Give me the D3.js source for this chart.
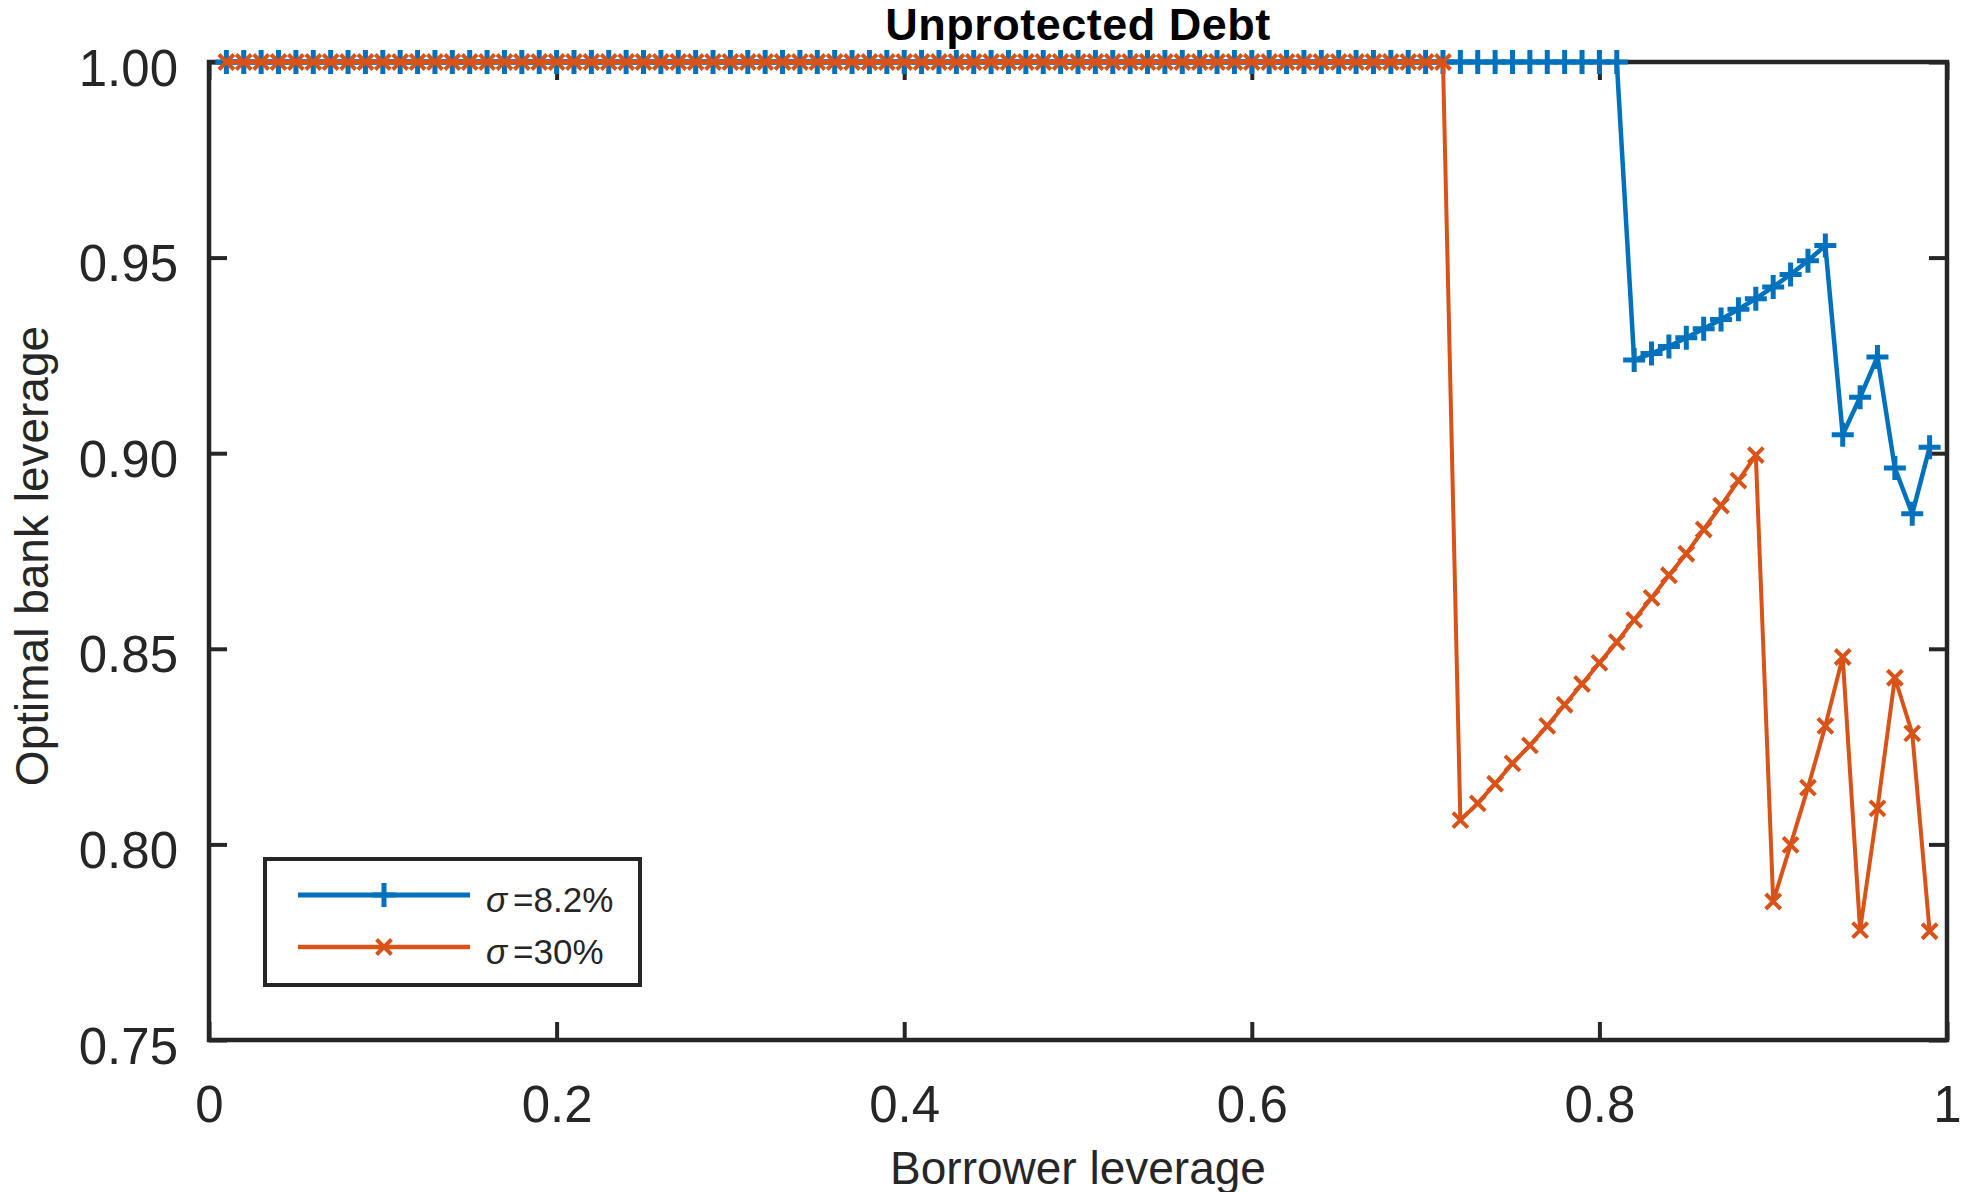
<!DOCTYPE html>
<html>
<head>
<meta charset="utf-8">
<script src="https://cdn.jsdelivr.net/npm/d3@7"></script>
<style>
  html, body { margin: 0; padding: 0; background: #ffffff; }
  svg { display: block; font-family: "Liberation Sans", Arial, Helvetica, sans-serif; }
</style>
</head>
<body>
<svg id="chart" width="1968" height="1192"></svg>
<script>
// Borrower leverage grid (0.01 … 0.99)
const borrowerLeverage = d3.range(1, 100).map(i => i / 100);

// Optimal bank leverage, sigma = 8.2%
const sigmaLow = [
  1.00, 1.00, 1.00, 1.00, 1.00, 1.00, 1.00, 1.00, 1.00, 1.00,
  1.00, 1.00, 1.00, 1.00, 1.00, 1.00, 1.00, 1.00, 1.00, 1.00,
  1.00, 1.00, 1.00, 1.00, 1.00, 1.00, 1.00, 1.00, 1.00, 1.00,
  1.00, 1.00, 1.00, 1.00, 1.00, 1.00, 1.00, 1.00, 1.00, 1.00,
  1.00, 1.00, 1.00, 1.00, 1.00, 1.00, 1.00, 1.00, 1.00, 1.00,
  1.00, 1.00, 1.00, 1.00, 1.00, 1.00, 1.00, 1.00, 1.00, 1.00,
  1.00, 1.00, 1.00, 1.00, 1.00, 1.00, 1.00, 1.00, 1.00, 1.00,
  1.00, 1.00, 1.00, 1.00, 1.00, 1.00, 1.00, 1.00, 1.00, 1.00,
  1.00,
  0.9238, 0.9255, 0.9273, 0.9295, 0.9318, 0.9342, 0.9368, 0.9395,
  0.9425, 0.9457, 0.9492, 0.9531,
  0.9047, 0.9143, 0.9246, 0.8962, 0.8845, 0.9015
];

// Optimal bank leverage, sigma = 30%
const sigmaHigh = [
  1.00, 1.00, 1.00, 1.00, 1.00, 1.00, 1.00, 1.00, 1.00, 1.00,
  1.00, 1.00, 1.00, 1.00, 1.00, 1.00, 1.00, 1.00, 1.00, 1.00,
  1.00, 1.00, 1.00, 1.00, 1.00, 1.00, 1.00, 1.00, 1.00, 1.00,
  1.00, 1.00, 1.00, 1.00, 1.00, 1.00, 1.00, 1.00, 1.00, 1.00,
  1.00, 1.00, 1.00, 1.00, 1.00, 1.00, 1.00, 1.00, 1.00, 1.00,
  1.00, 1.00, 1.00, 1.00, 1.00, 1.00, 1.00, 1.00, 1.00, 1.00,
  1.00, 1.00, 1.00, 1.00, 1.00, 1.00, 1.00, 1.00, 1.00, 1.00,
  1.00,
  0.8062, 0.8105, 0.8155, 0.8207, 0.8253, 0.8303, 0.8357, 0.8410,
  0.8464, 0.8517, 0.8574, 0.8630, 0.8688, 0.8743, 0.8805, 0.8866,
  0.8930, 0.8995,
  0.7854, 0.7999, 0.8145, 0.8303, 0.8479,
  0.7781, 0.8092, 0.8426, 0.8284, 0.7778
];

const xTicks = [0, 0.2, 0.4, 0.6, 0.8, 1];
const yTicks = [0.75, 0.80, 0.85, 0.90, 0.95, 1.00];

const seriesNames = ["σ=8.2%", "σ=30%"];
const seriesColors = ["#0072BD", "#D95319"];

// ---- layout ----
const W = 1968, H = 1192;
const plot = { left: 209, right: 1947, top: 62, bottom: 1040 };
const axisColor = "#262626";
const tickLen = 18;

const x = d3.scaleLinear().domain([0, 1]).range([plot.left, plot.right]);
const y = d3.scaleLinear().domain([0.75, 1.00]).range([plot.bottom, plot.top]);

const svg = d3.select("#chart");
svg.append("rect").attr("width", W).attr("height", H).attr("fill", "#fff");

// ---- axes (inward ticks on all four sides) ----
function styleAxis(g) {
  g.select(".domain").remove();
  g.selectAll(".tick line").attr("stroke", axisColor).attr("stroke-width", 4);
  g.selectAll(".tick text")
    .attr("fill", axisColor)
    .style("font-size", "51px")
    .style("font-family", "'Liberation Sans', Arial, sans-serif");
}

const fmtX = d3.format("~g");
const fmtY = d3.format(".2f");

svg.append("g")
  .attr("transform", `translate(0,${plot.bottom})`)
  .call(d3.axisBottom(x).tickValues(xTicks).tickFormat(fmtX).tickSize(-tickLen))
  .call(styleAxis)
  .call(g => g.selectAll(".tick text").attr("y", 82).attr("dy", 0));

svg.append("g")
  .attr("transform", `translate(0,${plot.top})`)
  .call(d3.axisTop(x).tickValues(xTicks).tickFormat("").tickSize(-tickLen))
  .call(styleAxis);

svg.append("g")
  .attr("transform", `translate(${plot.left},0)`)
  .call(d3.axisLeft(y).tickValues(yTicks).tickFormat(fmtY).tickSize(-tickLen).tickPadding(31))
  .call(styleAxis)
  .call(g => g.selectAll(".tick text").attr("dy", "23px"));

svg.append("g")
  .attr("transform", `translate(${plot.right},0)`)
  .call(d3.axisRight(y).tickValues(yTicks).tickFormat("").tickSize(-tickLen))
  .call(styleAxis);

// plot box
svg.append("rect")
  .attr("x", plot.left).attr("y", plot.top)
  .attr("width", plot.right - plot.left).attr("height", plot.bottom - plot.top)
  .attr("fill", "none").attr("stroke", axisColor).attr("stroke-width", 4.5);

// ---- series ----
const markerPlus = "M-11,0H11M0,-12V12";
const markerCross = "M-7.5,-7.5L7.5,7.5M-7.5,7.5L7.5,-7.5";

const series = [
  { name: seriesNames[0], values: sigmaLow, color: seriesColors[0], width: 4.5, marker: markerPlus, mw: 5 },
  { name: seriesNames[1], values: sigmaHigh, color: seriesColors[1], width: 4, marker: markerCross, mw: 4 }
];

const line = d3.line()
  .x((d, i) => x(borrowerLeverage[i]))
  .y(d => y(d));

series.forEach(s => {
  const g = svg.append("g");
  g.append("path")
    .attr("d", line(s.values))
    .attr("fill", "none")
    .attr("stroke", s.color)
    .attr("stroke-width", s.width)
    .attr("stroke-linejoin", "round");
  g.selectAll("path.mk")
    .data(s.values)
    .join("path")
    .attr("class", "mk")
    .attr("d", s.marker)
    .attr("transform", (d, i) => `translate(${x(borrowerLeverage[i])},${y(d)})`)
    .attr("fill", "none")
    .attr("stroke", s.color)
    .attr("stroke-width", s.mw);
});

// ---- title and axis labels ----
svg.append("text")
  .attr("x", (plot.left + plot.right) / 2).attr("y", 40)
  .attr("text-anchor", "middle")
  .style("font-size", "45px").style("font-weight", "bold")
  .style("letter-spacing", "0.5px")
  .attr("fill", "#000")
  .text("Unprotected Debt");

svg.append("text")
  .attr("x", (plot.left + plot.right) / 2).attr("y", 1184)
  .attr("text-anchor", "middle")
  .style("font-size", "46px")
  .attr("fill", axisColor)
  .text("Borrower leverage");

svg.append("text")
  .attr("transform", `translate(48,${(plot.top + plot.bottom) / 2 + 5}) rotate(-90)`)
  .attr("text-anchor", "middle")
  .style("font-size", "46px")
  .attr("fill", axisColor)
  .text("Optimal bank leverage");

// ---- legend ----
const legend = svg.append("g");
legend.append("rect")
  .attr("x", 265).attr("y", 859).attr("width", 375).attr("height", 126)
  .attr("fill", "#fff").attr("stroke", axisColor).attr("stroke-width", 4);

const legendRows = [895, 947];
series.forEach((s, i) => {
  const yy = legendRows[i];
  legend.append("line")
    .attr("x1", 298).attr("x2", 470).attr("y1", yy).attr("y2", yy)
    .attr("stroke", s.color).attr("stroke-width", s.width + 0.5);
  legend.append("path")
    .attr("d", s.marker)
    .attr("transform", `translate(384,${yy})`)
    .attr("fill", "none").attr("stroke", s.color).attr("stroke-width", s.mw);
  const [sym, rest] = [s.name.slice(0, 1), s.name.slice(1)];
  const t = legend.append("text")
    .attr("x", 486).attr("y", yy + 17)
    .style("font-size", "35px")
    .attr("fill", axisColor);
  t.append("tspan").style("font-style", "italic").text(sym);
  t.append("tspan").attr("dx", 6).text(rest);
});
</script>
</body>
</html>
